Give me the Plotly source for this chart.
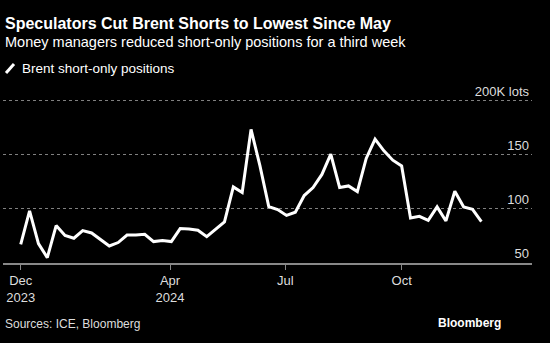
import plotly.graph_objects as go
import pandas as pd

start_date = "2023-12-05"
values = [67.3, 98.1, 68.0, 55.0, 84.6, 75.4, 72.9, 80.0, 77.8, 72.0,
          65.7, 68.9, 75.9, 75.9, 76.6, 69.8, 70.7, 69.8, 81.8, 81.5,
          80.3, 74.4, 81.2, 88.0, 120.4, 115.2, 173.5, 140.0, 102.2, 99.4,
          94.0, 97.0, 112.4, 119.8, 131.9, 150.6, 119.8, 121.3, 116.1, 146.7,
          164.5, 153.7, 145.1, 139.8, 91.7, 93.2, 89.5, 101.9, 88.9, 116.4,
          101.9, 99.7, 88.3]
dates = pd.date_range(start_date, periods=len(values), freq="7D")

x_tickvals = ["2023-12-05", "2024-04-01", "2024-07-01", "2024-10-01"]
x_ticktext = ["Dec<br>2023", "Apr<br>2024", "Jul", "Oct"]
y_tickvals = [50, 100, 150, 200]
y_ticktext = ["50", "100", "150", "200K lots"]

W, H = 550, 343
L, R, T, B = 3, 18, 77, 80
pw, ph = W - L - R, H - T - B

def px(x):
    return (x - L) / pw

def py(y):
    return (H - B - y) / ph

fig = go.Figure()
fig.add_trace(go.Scatter(x=dates, y=values, mode="lines",
                         line=dict(color="white", width=3),
                         name="Brent short-only positions", showlegend=False))

font = "Liberation Sans, Arial, sans-serif"
fig.update_layout(
    width=W, height=H,
    margin=dict(l=L, r=R, t=T, b=B),
    paper_bgcolor="black", plot_bgcolor="rgba(0,0,0,0)",
    font=dict(family=font, color="#dddddd", size=12),
    xaxis=dict(range=["2023-11-21", "2025-01-12"], tickvals=x_tickvals,
               ticktext=x_ticktext, showgrid=False, showline=True,
               linecolor="#888888", linewidth=1.5, ticks="outside",
               ticklen=5, tickcolor="#888888", tickfont=dict(size=13, color="#dddddd"),
               zeroline=False),
    yaxis=dict(range=[50, 222], side="right", tickvals=y_tickvals,
               ticktext=y_ticktext, ticklabelposition="inside top",
               showgrid=True, gridcolor="#808080", griddash="dot",
               gridwidth=1, showline=False, zeroline=False,
               tickfont=dict(size=13, color="#dddddd")),
    annotations=[
        dict(text="<b>Speculators Cut Brent Shorts to Lowest Since May</b>",
             x=px(3), y=py(23), xref="paper", yref="paper", xanchor="left",
             yanchor="middle", showarrow=False,
             font=dict(size=16, color="white", family=font)),
        dict(text="Money managers reduced short-only positions for a third week",
             x=px(3), y=py(42), xref="paper", yref="paper", xanchor="left",
             yanchor="middle", showarrow=False,
             font=dict(size=14.5, color="white", family=font)),
        dict(text="Brent short-only positions",
             x=px(20), y=py(68), xref="paper", yref="paper", xanchor="left",
             yanchor="middle", showarrow=False,
             font=dict(size=13.5, color="white", family=font)),
        dict(text="Sources: ICE, Bloomberg",
             x=px(3), y=py(324), xref="paper", yref="paper", xanchor="left",
             yanchor="middle", showarrow=False,
             font=dict(size=12, color="#dddddd", family=font)),
        dict(text="<b>Bloomberg</b>",
             x=px(503), y=py(323), xref="paper", yref="paper", xanchor="right",
             yanchor="middle", showarrow=False,
             font=dict(size=12, color="white", family=font)),
    ],
    shapes=[
        dict(type="line", xref="paper", yref="paper",
             x0=px(6), y0=py(73), x1=px(14), y1=py(64),
             line=dict(color="white", width=3)),
    ],
)

fig.write_html("out.html")
